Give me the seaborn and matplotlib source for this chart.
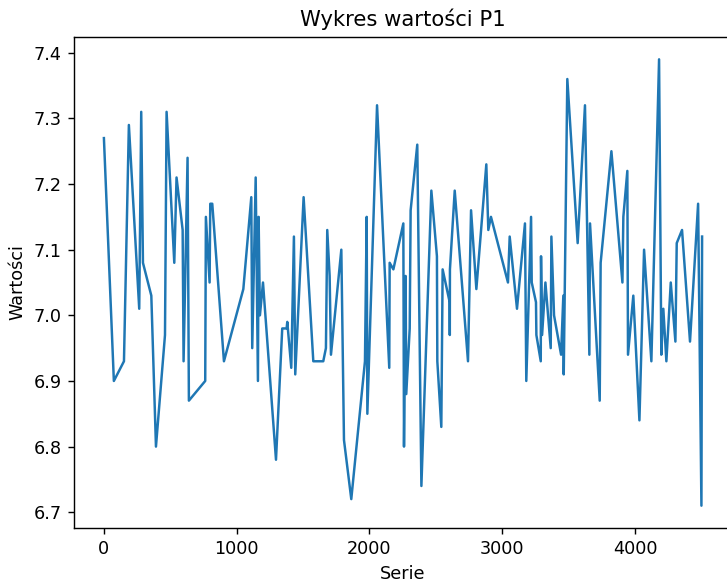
import matplotlib
matplotlib.use("Agg")
import matplotlib.pyplot as plt
import pandas as pd
import seaborn as sns

# Measurement index and P1 values
serie = [
    0, 75, 151, 188, 266, 281, 294, 357, 392, 460,
    472, 530, 547, 593, 600, 630, 640, 763, 768, 796,
    801, 816, 904, 1050, 1110, 1117, 1143, 1160, 1165, 1175,
    1198, 1296, 1343, 1376, 1381, 1411, 1431, 1441, 1504, 1577,
    1652, 1672, 1682, 1700, 1710, 1788, 1808, 1863, 1966, 1979,
    1984, 2057, 2149, 2152, 2180, 2255, 2260, 2272, 2277, 2303,
    2310, 2360, 2391, 2466, 2508, 2511, 2541, 2551, 2604, 2605,
    2606, 2642, 2742, 2765, 2805, 2880, 2895, 2915, 3043, 3056,
    3111, 3171, 3181, 3217, 3222, 3254, 3257, 3290, 3292, 3300,
    3325, 3365, 3370, 3390, 3443, 3460, 3463, 3490, 3568, 3623,
    3656, 3661, 3734, 3741, 3822, 3905, 3912, 3942, 3947, 3987,
    4033, 4068, 4123, 4181, 4198, 4213, 4236, 4269, 4304, 4314,
    4354, 4414, 4475, 4500, 4505,
]
wartosci = [
    7.27, 6.90, 6.93, 7.29, 7.01, 7.31, 7.08, 7.03, 6.80, 6.97,
    7.31, 7.08, 7.21, 7.13, 6.93, 7.24, 6.87, 6.90, 7.15, 7.05,
    7.17, 7.17, 6.93, 7.04, 7.18, 6.95, 7.21, 6.90, 7.15, 7.00,
    7.05, 6.78, 6.98, 6.98, 6.99, 6.92, 7.12, 6.91, 7.18, 6.93,
    6.93, 6.95, 7.13, 7.06, 6.94, 7.10, 6.81, 6.72, 6.93, 7.15,
    6.85, 7.32, 6.92, 7.08, 7.07, 7.14, 6.80, 7.06, 6.88, 6.98,
    7.16, 7.26, 6.74, 7.19, 7.09, 6.93, 6.83, 7.07, 7.02, 6.97,
    7.07, 7.19, 6.93, 7.16, 7.04, 7.23, 7.13, 7.15, 7.05, 7.12,
    7.01, 7.14, 6.90, 7.15, 7.05, 7.02, 6.97, 6.93, 7.09, 6.97,
    7.05, 6.95, 7.12, 7.00, 6.94, 7.03, 6.91, 7.36, 7.11, 7.32,
    6.94, 7.14, 6.87, 7.08, 7.25, 7.05, 7.15, 7.22, 6.94, 7.03,
    6.84, 7.10, 6.93, 7.39, 6.94, 7.01, 6.93, 7.05, 6.96, 7.11,
    7.13, 6.96, 7.17, 6.71, 7.12,
]

tytul = "Wykres wartości P1"
etykieta_x = "Serie"
etykieta_y = "Wartości"

df = pd.DataFrame({"Serie": serie, "P1": wartosci})

dpi = 127
fig = plt.figure(figsize=(727 / dpi, 582 / dpi), dpi=dpi)
ax = fig.add_axes([74 / 727, 1 - 528 / 582, (732 - 74) / 727, (528 - 37) / 582])

sns.lineplot(data=df, x="Serie", y="P1", ax=ax, estimator=None, sort=False,
             color="#1f77b4", linewidth=1.4)

ax.set_title(tytul)
ax.set_xlabel(etykieta_x)
ax.set_ylabel(etykieta_y)
ax.set_xticks([0, 1000, 2000, 3000, 4000])
ax.set_yticks([6.7, 6.8, 6.9, 7.0, 7.1, 7.2, 7.3, 7.4])

fig.savefig("out.png", dpi=dpi)
